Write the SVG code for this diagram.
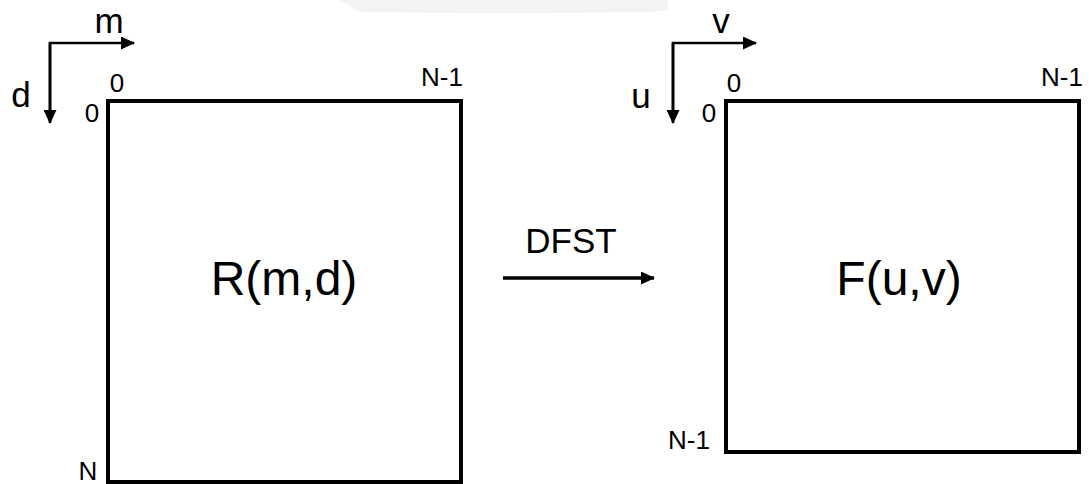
<svg xmlns="http://www.w3.org/2000/svg" width="1092" height="484" viewBox="0 0 1092 484">
<style>
.box{fill:none;stroke:#000;stroke-width:4}
.ax{fill:none;stroke:#000;stroke-width:2.6}
.t{font-family:"Liberation Sans",Arial,sans-serif;fill:#000}
.lab{font-size:35px}
.num{font-size:26px}
.big{font-size:48px}
</style>
<defs>
<marker id="ah" markerUnits="userSpaceOnUse" markerWidth="14" markerHeight="13" refX="13" refY="6.5" orient="auto">
<path d="M0,0 L14,6.5 L0,13 Z" fill="#000"/>
</marker>
</defs>
<path d="M340,0 L668,0 L668,10 L650,12 Q500,14 360,12 Z" fill="#f3f3f3"/>
<g id="connectors">
<path class="ax" d="M50,121 V43 H134" marker-end="url(#ah)"/>
<path class="ax" d="M50,43 V123" marker-end="url(#ah)"/>
<path class="ax" d="M673,121 V43 H756" marker-end="url(#ah)"/>
<path class="ax" d="M673,43 V123" marker-end="url(#ah)"/>
<line x1="503" y1="278" x2="654" y2="278" stroke="#000" stroke-width="3.5" marker-end="url(#ah)"/>
<text class="t lab" x="571" y="253" text-anchor="middle">DFST</text>
</g>
<g id="R">
<rect class="box" x="108" y="101" width="353" height="381"/>
<text class="t big" x="284" y="295" text-anchor="middle">R(m,d)</text>
<text class="t lab" x="109" y="33" text-anchor="middle">m</text>
<text class="t lab" x="21" y="107" text-anchor="middle">d</text>
<text class="t num" x="117" y="92" text-anchor="middle">0</text>
<text class="t num" x="92" y="122" text-anchor="middle">0</text>
<text class="t num" x="442" y="86" text-anchor="middle">N-1</text>
<text class="t num" x="88" y="480" text-anchor="middle">N</text>
</g>
<g id="F">
<rect class="box" x="726" y="101" width="353" height="351"/>
<text class="t big" x="899" y="295" text-anchor="middle">F(u,v)</text>
<text class="t lab" x="721" y="33" text-anchor="middle">v</text>
<text class="t lab" x="641" y="108" text-anchor="middle">u</text>
<text class="t num" x="734" y="92" text-anchor="middle">0</text>
<text class="t num" x="709" y="122" text-anchor="middle">0</text>
<text class="t num" x="1062" y="86" text-anchor="middle">N-1</text>
<text class="t num" x="689" y="449" text-anchor="middle">N-1</text>
</g>
</svg>
